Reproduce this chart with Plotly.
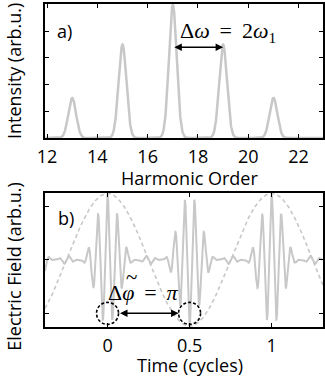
import numpy as np
import plotly.graph_objects as go

# ---------------- data ----------------
harmonic_orders = [13, 15, 17, 19, 21]
harmonic_intensities = [1.5, 3.5, 5.0, 3.5, 1.5]
peak_sigma = 0.155

spec_x_range = [11.92, 22.97]
spec_y_range = [0, 5.02]
spec_x_ticks = [12, 14, 16, 18, 20, 22]
spec_y_ticks = [1, 2, 3, 4]

time_range = [-0.381, 1.313]
field_range = [-1.255, 1.25]
time_ticks = [0, 0.5, 1]
time_tick_labels = ["0", "0.5", "1"]
field_ticks = [-1, 0, 1]
field_peak = 1.22
driver_amplitude = 1.24

burst_times = [0.0, 0.5]
arrow_a_height = 3.4
arrow_b_level = -1.0

# ---------------- curves ----------------
xs = np.linspace(spec_x_range[0], spec_x_range[1], 3000)
spec = np.zeros_like(xs)
for q, I in zip(harmonic_orders, harmonic_intensities):
    spec += I * np.exp(-(xs - q) ** 2 / (2 * peak_sigma ** 2))

ts = np.linspace(time_range[0], time_range[1], 4000)
field = np.zeros_like(ts)
for q, I in zip(harmonic_orders, harmonic_intensities):
    field += I * np.cos(2 * np.pi * q * ts)
field = field / sum(harmonic_intensities) * field_peak
driver = driver_amplitude * np.cos(2 * np.pi * ts)

GREY = "#c8c8c8"
FONT = "Open Sans"
SERIF = "Liberation Serif"

fig = go.Figure()
fig.add_trace(go.Scatter(x=xs, y=spec, mode="lines",
                         line=dict(color=GREY, width=2.5),
                         xaxis="x", yaxis="y", showlegend=False, hoverinfo="skip"))
fig.add_trace(go.Scatter(x=ts, y=driver, mode="lines",
                         line=dict(color=GREY, width=1.6, dash="4px,3px"),
                         xaxis="x2", yaxis="y2", showlegend=False, hoverinfo="skip"))
fig.add_trace(go.Scatter(x=ts, y=field, mode="lines",
                         line=dict(color=GREY, width=2),
                         xaxis="x2", yaxis="y2", showlegend=False, hoverinfo="skip"))

axis_common = dict(showline=True, mirror="ticks", linecolor="black", linewidth=1.5,
                   ticks="inside", ticklen=4, tickwidth=1, tickcolor="black",
                   showgrid=False, zeroline=False,
                   tickfont=dict(family=FONT, size=18, color="black"))

fig.update_layout(
    width=325, height=378,
    margin=dict(l=45, r=0, t=4, b=51),
    paper_bgcolor="white", plot_bgcolor="white",
    xaxis=dict(axis_common, domain=[0, 1], anchor="y", range=spec_x_range,
               tickvals=spec_x_ticks, ticklabelstandoff=2),
    yaxis=dict(axis_common, domain=[0.5851, 1], anchor="x", range=spec_y_range,
               tickvals=spec_y_ticks, showticklabels=False),
    xaxis2=dict(axis_common, domain=[0, 1], anchor="y2", range=time_range,
                tickvals=time_ticks, ticktext=time_tick_labels, ticklabelstandoff=2),
    yaxis2=dict(axis_common, domain=[0, 0.4149], anchor="x2", range=field_range,
                tickvals=field_ticks, showticklabels=False),
)

def label(text, xref, yref, x, y, family=FONT, size=18, **kw):
    d = dict(text=text, xref=xref, yref=yref, x=x, y=y, xanchor="center",
             yanchor="middle", showarrow=False,
             font=dict(family=family, size=size, color="black"))
    d.update(kw)
    return d

NB = "\u2009"  # thin space for math-like spacing
annotations = [
    # axis titles
    label("Harmonic Order", "x domain", "y domain", 0.52, 0, yanchor="top", yshift=-26),
    label("Time (cycles)", "x2 domain", "y2 domain", 0.52, 0, yanchor="top", yshift=-24),
    label("Intensity (arb.u.)", "x domain", "y domain", 0, 0.5, xshift=-31, textangle=-90),
    label("Electric Field (arb.u.)", "x2 domain", "y2 domain", 0, 0.45, xshift=-31,
          textangle=-90),
    # panel labels
    label("a)", "x domain", "y domain", 0.071, 0.80),
    label("b)", "x2 domain", "y2 domain", 0.075, 0.81),
    # math labels
    label("Δ<i>ω</i>" + NB + " = " + NB + "2<i>ω</i><sub>1</sub>", "x domain", "y domain",
          0.66, 0.79, family=SERIF, size=22),
    label("Δ<i>φ</i>" + NB + " = " + NB + "<i>π</i>", "x2 domain", "y2 domain",
          0.355, 0.255, family=SERIF, size=22),
    label("~", "x2 domain", "y2 domain", 0.312, 0.37, family=SERIF, size=21),
    # arrows
    dict(x=harmonic_orders[3], y=arrow_a_height, ax=harmonic_orders[2], ay=arrow_a_height,
         xref="x", yref="y", axref="x", ayref="y", text="", showarrow=True,
         arrowhead=2, startarrowhead=2, arrowside="end+start", arrowsize=1,
         arrowwidth=1.5, arrowcolor="black"),
    dict(x=burst_times[1], y=arrow_b_level, ax=burst_times[0], ay=arrow_b_level,
         xref="x2", yref="y2", axref="x2", ayref="y2", text="", showarrow=True,
         arrowhead=2, startarrowhead=2, arrowside="end+start", arrowsize=1,
         arrowwidth=1.5, arrowcolor="black", standoff=11, startstandoff=11),
]
fig.update_layout(annotations=annotations)

shapes = []
for tb in burst_times:
    shapes.append(dict(type="circle", xref="x2", yref="y2",
                       xsizemode="pixel", ysizemode="pixel",
                       xanchor=tb, yanchor=arrow_b_level,
                       x0=-11, x1=11, y0=-11, y1=11,
                       line=dict(color="black", width=1.6, dash="3px,2px")))
fig.update_layout(shapes=shapes)

fig.write_html("out.html")
